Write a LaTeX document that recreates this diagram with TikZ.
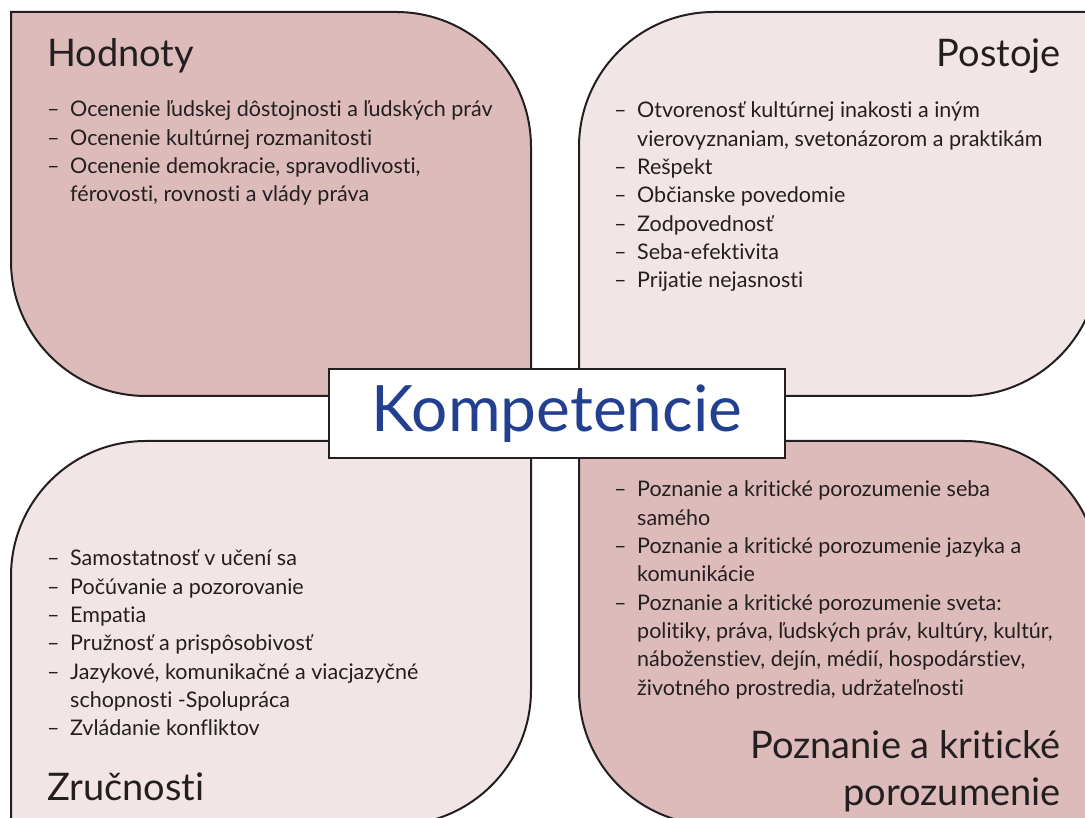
\documentclass[tikz,border=0pt]{standalone}
\usepackage{fontspec}
\setmainfont{Lato}[Ligatures={TeX,NoCommon}]
\definecolor{ruzova}{HTML}{DEBBBB}
\definecolor{svetla}{HTML}{F2E5E6}
\definecolor{tmava}{HTML}{231F20}
\definecolor{modra}{HTML}{233F8F}
\newcommand{\li}{\makebox[23pt][l]{--}}
\newcommand{\ds}{\hspace*{23pt}}

\begin{document}
\begin{tikzpicture}[x=1pt,y=1pt,
    list/.style={anchor=base west, inner sep=0pt, text=tmava,
      font=\fontsize{21.5}{28.3}\selectfont},
    nadpis/.style={inner sep=0pt, text=tmava, font=\fontsize{38}{47}\selectfont},
    kvadrant/.style={line width=2pt, draw=tmava}]

    \useasboundingbox (0,0) rectangle (1085,818);
    \clip (0,0) rectangle (1085,818);

    \filldraw[kvadrant, fill=ruzova] (11,806) -- (396,806)
        arc[start angle=90, end angle=0, radius=135] -- (531,422) -- (146,422)
        arc[start angle=270, end angle=180, radius=135] -- cycle; % Hodnoty
    \filldraw[kvadrant, fill=svetla] (579,422) -- (579,671)
        arc[start angle=180, end angle=90, radius=135] -- (1099,806) -- (1099,557)
        arc[start angle=0, end angle=-90, radius=135] -- cycle; % Postoje
    \filldraw[kvadrant, fill=svetla] (11,-7) -- (11,242)
        arc[start angle=180, end angle=90, radius=135] -- (531,377) -- (531,128)
        arc[start angle=0, end angle=-90, radius=135] -- cycle; % Zrucnosti
    \filldraw[kvadrant, fill=ruzova] (579,377) -- (964,377)
        arc[start angle=90, end angle=0, radius=135] -- (1099,-7) -- (714,-7)
        arc[start angle=270, end angle=180, radius=135] -- cycle; % Poznanie

    \node[kvadrant, fill=white, minimum width=456pt, minimum height=89pt,
        text=modra, font=\fontsize{64}{70}\selectfont] (kompetencie) at (557,404.5) {Kompetencie};

    \node[nadpis, anchor=base west] (hodnoty) at (47,751) {Hodnoty};
    \node[nadpis, anchor=base east] (postoje) at (1061,751) {Postoje};
    \node[nadpis, anchor=base west] (zrucnosti) at (47,17) {Zručnosti};
    \node[nadpis, anchor=base east] (poznanie) at (1061,59)
        {\begin{tabular}[t]{@{}r@{}}Poznanie a kritické\\porozumenie\end{tabular}};

    \node[list] (hodnotyList) at (47,701) {\begin{tabular}[t]{@{}l@{}}
        \li Ocenenie ľudskej dôstojnosti a ľudských práv\\
        \li Ocenenie kultúrnej rozmanitosti\\
        \li Ocenenie demokracie, spravodlivosti,\\
        \ds férovosti, rovnosti a vlády práva
        \end{tabular}};
    \node[list] (postojeList) at (614,700) {\begin{tabular}[t]{@{}l@{}}
        \li Otvorenosť kultúrnej inakosti a iným\\
        \ds vierovyznaniam, svetonázorom a praktikám\\
        \li Rešpekt\\
        \li Občianske povedomie\\
        \li Zodpovednosť\\
        \li Seba-efektivita\\
        \li Prijatie nejasnosti
        \end{tabular}};
    \node[list] (zrucnostiList) at (47,252) {\begin{tabular}[t]{@{}l@{}}
        \li Samostatnosť v učení sa\\
        \li Počúvanie a pozorovanie\\
        \li Empatia\\
        \li Pružnosť a prispôsobivosť\\
        \li Jazykové, komunikačné a viacjazyčné\\
        \ds schopnosti -Spolupráca\\
        \li Zvládanie konfliktov
        \end{tabular}};
    \node[list] (poznanieList) at (614,321) {\begin{tabular}[t]{@{}l@{}}
        \li Poznanie a kritické porozumenie seba\\
        \ds samého\\
        \li Poznanie a kritické porozumenie jazyka a\\
        \ds komunikácie\\
        \li Poznanie a kritické porozumenie sveta:\\
        \ds politiky, práva, ľudských práv, kultúry, kultúr,\\
        \ds náboženstiev, dejín, médií, hospodárstiev,\\
        \ds životného prostredia, udržateľnosti
        \end{tabular}};

\end{tikzpicture}
\end{document}
